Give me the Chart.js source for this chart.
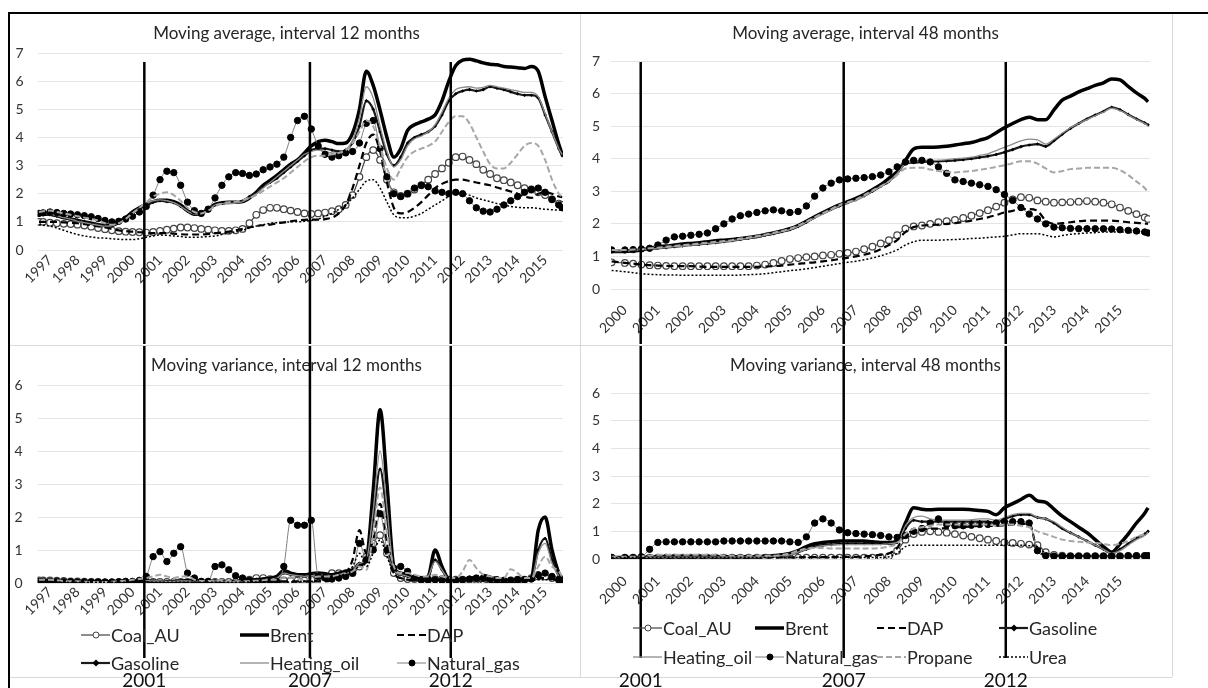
<!DOCTYPE html>
<html lang="en">
<head>
<meta charset="UTF-8" />
<title>Moving average and moving variance</title>
<script src="https://cdn.jsdelivr.net/npm/chart.js"></script>
<style>
  body { margin: 0; background: #fff; width: 1208px; height: 688px; position: relative; overflow: hidden; font-family: Lato, "Liberation Sans", sans-serif; }
  .rule { position: absolute; }
  .pane { position: absolute; }
  .item { position: absolute; height: 22px; display: flex; align-items: center; font-size: 18px; color: #262626; white-space: nowrap; }
  .item svg { margin-right: 1px; }
</style>
</head>
<body>
<div class="rule" style="left:8px;top:12px;width:1200px;height:2px;background:#000"></div>
<div class="rule" style="left:8px;top:12px;width:2px;height:676px;background:#000"></div>
<div class="rule" style="left:580px;top:14px;width:1px;height:663px;background:#d9d9d9"></div>
<div class="rule" style="left:1172px;top:14px;width:1px;height:663px;background:#d9d9d9"></div>
<div class="rule" style="left:10px;top:345px;width:1162px;height:1px;background:#d9d9d9"></div>
<div class="rule" style="left:10px;top:677px;width:1162px;height:1px;background:#d9d9d9"></div>

<canvas class="pane" id="ma12" width="570" height="330" style="left:10px;top:14px"></canvas>
<canvas class="pane" id="ma48" width="590" height="330" style="left:581px;top:14px"></canvas>
<canvas class="pane" id="mv12" width="570" height="342" style="left:10px;top:346px"></canvas>
<canvas class="pane" id="mv48" width="590" height="342" style="left:581px;top:346px"></canvas>
<div id="legends"></div>

<script>
const seriesNames = ["Coal_AU", "Brent", "DAP", "Gasoline", "Heating_oil", "Natural_gas", "Propane", "Urea"];
const eventLabels = ["2001", "2007", "2012"];
const eventYearsLeft = [2000.43, 2006.45, 2011.57];
const eventYearsRight = [2000.48, 2006.63, 2011.54];

// quarterly dates, 12-month panels
const xLeft = [1996.6, 1996.75,
  1997, 1997.25, 1997.5, 1997.75, 1998, 1998.25, 1998.5, 1998.75,
  1999, 1999.25, 1999.5, 1999.75, 2000, 2000.25, 2000.5, 2000.75,
  2001, 2001.25, 2001.5, 2001.75, 2002, 2002.25, 2002.5, 2002.75,
  2003, 2003.25, 2003.5, 2003.75, 2004, 2004.25, 2004.5, 2004.75,
  2005, 2005.25, 2005.5, 2005.75, 2006, 2006.25, 2006.5, 2006.75,
  2007, 2007.25, 2007.5, 2007.75, 2008, 2008.25, 2008.5, 2008.75,
  2009, 2009.25, 2009.5, 2009.75, 2010, 2010.25, 2010.5, 2010.75,
  2011, 2011.25, 2011.5, 2011.75, 2012, 2012.25, 2012.5, 2012.75,
  2013, 2013.25, 2013.5, 2013.75, 2014, 2014.25, 2014.5, 2014.75,
  2015, 2015.25, 2015.5, 2015.62];

// quarterly dates, 48-month panels
const xRight = [1999.6,
  2000, 2000.25, 2000.5, 2000.75, 2001, 2001.25, 2001.5, 2001.75,
  2002, 2002.25, 2002.5, 2002.75, 2003, 2003.25, 2003.5, 2003.75,
  2004, 2004.25, 2004.5, 2004.75, 2005, 2005.25, 2005.5, 2005.75,
  2006, 2006.25, 2006.5, 2006.75, 2007, 2007.25, 2007.5, 2007.75,
  2008, 2008.25, 2008.5, 2008.75, 2009, 2009.25, 2009.5, 2009.75,
  2010, 2010.25, 2010.5, 2010.75, 2011, 2011.25, 2011.5, 2011.75,
  2012, 2012.25, 2012.5, 2012.75, 2013, 2013.25, 2013.5, 2013.75,
  2014, 2014.25, 2014.5, 2014.75, 2015, 2015.25, 2015.5, 2015.75,
  2015.85];

// moving average, 12 months
const coalMA12 = [1.0,1.0, 0.97,0.95,0.93,0.92, 0.9,0.87,0.83,0.78, 0.74,0.7,0.67,0.65, 0.64,0.63,0.62,0.64, 0.68,0.72,0.76,0.8, 0.8,0.78,0.75,0.72, 0.7,0.68,0.68,0.7, 0.75,0.95,1.25,1.42, 1.5,1.5,1.45,1.4, 1.35,1.3,1.28,1.3, 1.33,1.38,1.45,1.6, 1.95,2.6,3.3,3.55, 3.2,2.5,2.05,1.92, 2.0,2.15,2.3,2.5, 2.7,2.9,3.1,3.3, 3.32,3.2,3.05,2.85, 2.7,2.55,2.48,2.4, 2.3,2.2,2.15,2.05, 1.95,1.8,1.65,1.6];
const brentMA12 = [1.3,1.3, 1.28,1.22,1.15,1.1, 1.05,1.0,0.95,0.9, 0.88,0.9,1.0,1.15, 1.35,1.5,1.62,1.72, 1.77,1.77,1.72,1.6, 1.4,1.27,1.3,1.45, 1.62,1.68,1.7,1.7, 1.72,1.85,2.05,2.3, 2.47,2.65,2.85,3.05, 3.2,3.45,3.7,3.85, 3.9,3.85,3.78,3.8, 4.15,5.0,6.35,5.85, 4.97,4.0,3.3,3.6, 4.25,4.45,4.55,4.65, 4.8,5.3,6.0,6.55, 6.75,6.78,6.72,6.65, 6.6,6.58,6.52,6.5, 6.48,6.45,6.52,6.35, 5.45,4.6,3.75,3.4];
const dapMA12 = [1.0,1.0, 1.0,1.0,0.98,0.97, 0.95,0.92,0.88,0.84, 0.8,0.75,0.7,0.67, 0.65,0.63,0.62,0.6, 0.6,0.6,0.58,0.56, 0.55,0.55,0.55,0.57, 0.6,0.62,0.65,0.7, 0.75,0.8,0.85,0.88, 0.9,0.95,0.98,1.02, 1.05,1.07,1.08,1.08, 1.1,1.15,1.3,1.6, 2.2,3.0,3.8,4.1, 3.5,2.4,1.5,1.3, 1.35,1.5,1.7,1.95, 2.2,2.35,2.45,2.5, 2.5,2.45,2.4,2.35, 2.3,2.22,2.15,2.08, 2.0,1.9,1.85,2.0, 2.05,2.0,1.9,1.88];
const gasolineMA12 = [1.25,1.25, 1.25,1.2,1.15,1.1, 1.05,1.0,0.95,0.9, 0.85,0.85,0.95,1.1, 1.3,1.45,1.6,1.7, 1.75,1.72,1.68,1.55, 1.38,1.3,1.32,1.45, 1.6,1.65,1.68,1.7, 1.75,1.9,2.05,2.25, 2.4,2.55,2.75,2.95, 3.15,3.35,3.55,3.6, 3.6,3.55,3.5,3.55, 3.8,4.4,5.3,5.0, 4.2,3.4,3.0,3.3, 3.8,4.0,4.1,4.2, 4.4,4.8,5.3,5.55, 5.65,5.7,5.65,5.7, 5.8,5.75,5.7,5.62, 5.55,5.5,5.5,5.4, 4.8,4.2,3.6,3.35];
const heatingMA12 = [1.3,1.3, 1.28,1.22,1.15,1.1, 1.02,0.97,0.92,0.88, 0.85,0.87,0.97,1.12, 1.32,1.5,1.65,1.75, 1.78,1.75,1.68,1.55, 1.38,1.28,1.3,1.42, 1.6,1.65,1.65,1.67, 1.72,1.85,2.0,2.2, 2.4,2.6,2.8,3.0, 3.2,3.4,3.5,3.55, 3.5,3.45,3.45,3.55, 3.9,4.7,5.8,5.4, 4.4,3.5,2.95,3.2, 3.7,3.95,4.05,4.2, 4.45,4.9,5.4,5.7, 5.78,5.8,5.75,5.78, 5.85,5.8,5.75,5.7, 5.65,5.6,5.6,5.45, 4.85,4.2,3.6,3.4];
const gasMA12 = [1.3,1.32, 1.35,1.33,1.3,1.28, 1.25,1.22,1.18,1.12, 1.05,1.0,1.02,1.1, 1.2,1.35,1.55,1.95, 2.5,2.8,2.75,2.3, 1.7,1.4,1.3,1.45, 1.85,2.3,2.6,2.75, 2.72,2.65,2.7,2.85, 2.95,3.05,3.3,4.0, 4.6,4.75,4.3,3.7, 3.4,3.3,3.35,3.45, 3.5,3.8,4.5,4.6, 3.6,2.6,2.0,1.9, 2.0,2.2,2.3,2.25, 2.1,2.05,2.0,2.05, 2.0,1.75,1.5,1.38, 1.35,1.45,1.6,1.75, 1.9,2.05,2.15,2.2, 2.05,1.8,1.6,1.5];
const propaneMA12 = [1.35,1.38, 1.4,1.35,1.3,1.25, 1.2,1.15,1.1,1.05, 0.95,0.9,0.95,1.1, 1.3,1.5,1.7,1.9, 2.0,2.05,1.95,1.75, 1.5,1.35,1.3,1.4, 1.55,1.65,1.7,1.72, 1.78,1.85,1.95,2.1, 2.25,2.4,2.55,2.75, 2.95,3.15,3.3,3.35, 3.35,3.4,3.45,3.55, 3.8,4.2,4.6,4.4, 3.7,2.9,2.5,2.9, 3.3,3.5,3.6,3.7, 3.85,4.2,4.55,4.75, 4.75,4.5,4.0,3.5, 3.05,2.9,2.9,3.1, 3.4,3.7,3.8,3.7, 3.2,2.5,2.0,1.9];
const ureaMA12 = [0.9,0.88, 0.85,0.78,0.7,0.62, 0.55,0.5,0.46,0.43, 0.42,0.4,0.38,0.37, 0.37,0.4,0.45,0.5, 0.53,0.52,0.5,0.48, 0.45,0.45,0.46,0.48, 0.5,0.55,0.6,0.65, 0.7,0.78,0.85,0.9, 0.95,0.97,0.98,1.0, 1.0,1.02,1.05,1.1, 1.2,1.3,1.45,1.6, 1.85,2.15,2.45,2.5, 2.2,1.7,1.25,1.15, 1.15,1.2,1.3,1.45, 1.6,1.75,1.9,2.0, 2.0,1.95,1.85,1.78, 1.72,1.65,1.6,1.55, 1.52,1.5,1.5,1.48, 1.45,1.43,1.42,1.42];

// moving variance, 12 months
const coalMV12 = [0.08,0.08, 0.08,0.07,0.06,0.05, 0.05,0.04,0.03,0.03, 0.02,0.02,0.02,0.02, 0.02,0.02,0.02,0.03, 0.03,0.03,0.03,0.03, 0.03,0.03,0.03,0.03, 0.03,0.03,0.03,0.03, 0.05,0.1,0.15,0.15, 0.12,0.1,0.08,0.08, 0.08,0.08,0.1,0.15, 0.2,0.3,0.3,0.3, 0.3,0.5,0.8,1.2, 1.45,0.9,0.3,0.15, 0.12,0.12,0.1,0.1, 0.12,0.12,0.1,0.1, 0.1,0.1,0.1,0.08, 0.06,0.05,0.05,0.08, 0.1,0.1,0.15,0.2, 0.2,0.15,0.1,0.08];
const brentMV12 = [0.05,0.05, 0.05,0.04,0.03,0.03, 0.03,0.02,0.02,0.02, 0.03,0.04,0.05,0.06, 0.06,0.07,0.06,0.05, 0.04,0.03,0.04,0.06, 0.07,0.05,0.04,0.05, 0.06,0.04,0.03,0.03, 0.05,0.08,0.1,0.12, 0.15,0.2,0.38,0.3, 0.25,0.25,0.28,0.3, 0.28,0.25,0.3,0.35, 0.4,0.55,0.7,2.8, 5.25,3.0,0.5,0.3, 0.25,0.15,0.12,0.2, 1.0,0.5,0.12,0.1, 0.1,0.12,0.1,0.08, 0.06,0.05,0.05,0.05, 0.05,0.08,0.15,1.6, 2.0,1.0,0.3,0.15];
const dapMV12 = [0.03,0.03, 0.03,0.03,0.03,0.03, 0.03,0.03,0.03,0.03, 0.03,0.03,0.03,0.03, 0.03,0.03,0.03,0.03, 0.03,0.03,0.03,0.03, 0.03,0.03,0.03,0.03, 0.03,0.03,0.03,0.04, 0.04,0.05,0.05,0.05, 0.05,0.05,0.05,0.05, 0.05,0.05,0.05,0.05, 0.05,0.08,0.15,0.3, 0.7,1.6,0.9,1.3, 2.4,1.2,0.3,0.15, 0.1,0.08,0.08,0.08, 0.1,0.1,0.1,0.1, 0.1,0.15,0.2,0.25, 0.2,0.15,0.1,0.08, 0.08,0.1,0.12,0.15, 0.15,0.12,0.1,0.1];
const gasolineMV12 = [0.05,0.05, 0.05,0.05,0.04,0.03, 0.03,0.03,0.02,0.02, 0.03,0.04,0.05,0.06, 0.07,0.08,0.07,0.06, 0.05,0.05,0.05,0.06, 0.06,0.05,0.05,0.05, 0.06,0.05,0.04,0.04, 0.05,0.07,0.08,0.1, 0.12,0.15,0.3,0.25, 0.22,0.22,0.25,0.28, 0.25,0.22,0.25,0.3, 0.35,0.6,0.65,1.9, 3.45,2.0,0.4,0.25, 0.2,0.12,0.1,0.2, 0.7,0.4,0.12,0.1, 0.1,0.1,0.08,0.07, 0.06,0.05,0.05,0.05, 0.05,0.08,0.1,1.0, 1.35,0.7,0.2,0.1];
const heatingMV12 = [0.06,0.06, 0.06,0.05,0.04,0.03, 0.03,0.03,0.02,0.02, 0.03,0.04,0.05,0.06, 0.08,0.1,0.08,0.06, 0.06,0.05,0.05,0.06, 0.06,0.05,0.05,0.05, 0.06,0.05,0.04,0.04, 0.05,0.07,0.08,0.1, 0.12,0.15,0.3,0.25, 0.22,0.2,0.22,0.25, 0.22,0.2,0.25,0.3, 0.35,0.6,0.7,2.2, 4.0,2.3,0.4,0.25, 0.2,0.12,0.1,0.2, 0.65,0.4,0.12,0.1, 0.1,0.1,0.08,0.07, 0.06,0.05,0.05,0.05, 0.05,0.07,0.1,0.9, 1.2,0.6,0.2,0.1];
const gasMV12 = [0.05,0.05, 0.05,0.05,0.04,0.04, 0.03,0.03,0.03,0.03, 0.03,0.03,0.04,0.05, 0.05,0.08,0.2,0.8, 0.95,0.65,0.9,1.1, 0.3,0.15,0.05,0.05, 0.5,0.55,0.4,0.22, 0.15,0.08,0.05,0.05, 0.05,0.05,0.5,1.9, 1.75,1.75,1.9,0.2, 0.15,0.12,0.15,0.2, 0.3,1.2,0.7,1.0, 2.1,1.0,0.45,0.5, 0.35,0.15,0.1,0.1, 0.1,0.08,0.08,0.08, 0.1,0.12,0.15,0.15, 0.12,0.1,0.08,0.08, 0.1,0.1,0.12,0.25, 0.3,0.2,0.1,0.05];
const propaneMV12 = [0.1,0.1, 0.1,0.08,0.06,0.05, 0.05,0.04,0.03,0.03, 0.03,0.04,0.05,0.07, 0.1,0.12,0.15,0.2, 0.25,0.2,0.15,0.2, 0.2,0.1,0.06,0.06, 0.08,0.08,0.06,0.05, 0.05,0.06,0.07,0.08, 0.1,0.1,0.15,0.15, 0.12,0.1,0.15,0.2, 0.2,0.2,0.25,0.3, 0.35,0.5,0.4,1.5, 2.9,1.5,0.5,0.3, 0.3,0.25,0.2,0.2, 0.25,0.2,0.15,0.15, 0.35,0.7,0.45,0.25, 0.2,0.15,0.15,0.42, 0.3,0.15,0.15,0.5, 0.8,0.5,0.35,0.2];
const ureaMV12 = [0.02,0.02, 0.02,0.02,0.02,0.02, 0.02,0.02,0.02,0.02, 0.02,0.02,0.02,0.02, 0.02,0.02,0.02,0.02, 0.02,0.02,0.02,0.02, 0.02,0.02,0.02,0.02, 0.02,0.02,0.02,0.02, 0.03,0.03,0.03,0.03, 0.03,0.03,0.03,0.03, 0.03,0.05,0.05,0.08, 0.1,0.15,0.2,0.3, 0.5,0.9,0.5,0.9, 1.3,0.8,0.3,0.15, 0.1,0.08,0.08,0.08, 0.08,0.08,0.08,0.08, 0.08,0.08,0.08,0.08, 0.08,0.08,0.08,0.08, 0.08,0.08,0.08,0.1, 0.1,0.1,0.08,0.08];

// moving average, 48 months
const coalMA48 = [0.82, 0.8,0.78,0.75,0.73, 0.72,0.71,0.7,0.7, 0.7,0.7,0.7,0.7, 0.7,0.7,0.7,0.7, 0.72,0.75,0.8,0.86, 0.92,0.95,0.98,1.0, 1.03,1.05,1.08,1.11, 1.15,1.22,1.3,1.4, 1.5,1.65,1.85,1.92, 1.95,2.0,2.05,2.08, 2.12,2.18,2.25,2.33, 2.42,2.53,2.65,2.75, 2.82,2.8,2.72,2.68, 2.65,2.66,2.67,2.68, 2.7,2.68,2.65,2.6, 2.5,2.4,2.3,2.2, 2.15];
const brentMA48 = [1.15, 1.15,1.17,1.2,1.25, 1.3,1.32,1.35,1.38, 1.4,1.42,1.45,1.48, 1.5,1.52,1.55,1.58, 1.62,1.67,1.72,1.78, 1.85,1.95,2.08,2.22, 2.35,2.47,2.58,2.68, 2.78,2.9,3.05,3.2, 3.4,3.6,3.95,4.3, 4.35,4.35,4.36,4.38, 4.42,4.46,4.5,4.57, 4.65,4.8,4.95,5.08, 5.2,5.27,5.2,5.2, 5.5,5.8,5.92,6.05, 6.15,6.25,6.33,6.45, 6.42,6.22,6.02,5.85, 5.75];
const dapMA48 = [0.85, 0.8,0.78,0.75,0.73, 0.72,0.71,0.7,0.7, 0.7,0.69,0.68,0.68, 0.68,0.68,0.68,0.68, 0.68,0.69,0.7,0.72, 0.75,0.77,0.8,0.82, 0.85,0.88,0.92,0.96, 1.0,1.05,1.12,1.22, 1.35,1.5,1.75,1.9, 1.95,1.96,1.98,2.0, 2.02,2.06,2.1,2.15, 2.2,2.27,2.35,2.4, 2.45,2.45,2.4,2.1, 2.0,2.02,2.05,2.08, 2.1,2.1,2.1,2.1, 2.08,2.05,2.03,2.01, 2.0];
const gasolineMA48 = [1.15, 1.15,1.17,1.2,1.22, 1.25,1.27,1.3,1.32, 1.35,1.37,1.4,1.42, 1.45,1.48,1.52,1.56, 1.6,1.65,1.7,1.76, 1.82,1.92,2.05,2.2, 2.33,2.44,2.55,2.65, 2.74,2.86,3.0,3.15, 3.3,3.55,3.85,3.88, 3.9,3.91,3.92,3.93, 3.95,3.97,4.0,4.04, 4.08,4.13,4.2,4.28, 4.37,4.42,4.45,4.38, 4.55,4.75,4.93,5.08, 5.22,5.34,5.45,5.58, 5.5,5.36,5.22,5.1, 5.04];
const heatingMA48 = [1.17, 1.17,1.18,1.2,1.22, 1.25,1.27,1.3,1.32, 1.35,1.37,1.4,1.42, 1.45,1.48,1.52,1.56, 1.6,1.65,1.7,1.76, 1.82,1.92,2.05,2.18, 2.3,2.42,2.55,2.64, 2.72,2.85,3.0,3.15, 3.3,3.55,3.85,3.92, 3.95,3.95,3.95,3.97, 4.0,4.02,4.05,4.1, 4.15,4.25,4.35,4.45, 4.55,4.6,4.58,4.45, 4.6,4.78,4.95,5.08, 5.2,5.32,5.43,5.55, 5.48,5.35,5.2,5.08, 5.02];
const gasMA48 = [1.2, 1.2,1.21,1.23,1.25, 1.35,1.5,1.6,1.62, 1.65,1.68,1.72,1.85, 2.0,2.15,2.25,2.3, 2.35,2.4,2.43,2.4, 2.35,2.38,2.55,2.85, 3.1,3.25,3.35,3.38, 3.4,3.42,3.45,3.5, 3.6,3.75,3.9,3.95, 3.95,3.9,3.75,3.55, 3.35,3.3,3.25,3.2, 3.15,3.05,2.9,2.72, 2.5,2.3,2.15,2.0, 1.9,1.88,1.86,1.85, 1.85,1.85,1.85,1.84, 1.82,1.8,1.78,1.75, 1.72];
const propaneMA48 = [1.2, 1.2,1.21,1.22,1.25, 1.27,1.3,1.32,1.35, 1.37,1.4,1.42,1.45, 1.47,1.5,1.55,1.58, 1.62,1.67,1.72,1.78, 1.85,1.95,2.07,2.2, 2.33,2.45,2.58,2.66, 2.75,2.88,3.02,3.15, 3.3,3.5,3.7,3.72, 3.72,3.67,3.62,3.6, 3.58,3.6,3.62,3.66, 3.7,3.75,3.8,3.86, 3.92,3.92,3.85,3.7, 3.58,3.62,3.68,3.7, 3.72,3.72,3.72,3.72, 3.65,3.5,3.3,3.1, 2.98];
const ureaMA48 = [0.57, 0.53,0.5,0.47,0.45, 0.44,0.43,0.43,0.42, 0.42,0.42,0.42,0.42, 0.42,0.42,0.43,0.44, 0.45,0.47,0.5,0.53, 0.56,0.59,0.62,0.66, 0.7,0.74,0.78,0.82, 0.85,0.9,0.95,1.02, 1.1,1.2,1.35,1.45, 1.5,1.5,1.5,1.51, 1.52,1.53,1.55,1.56, 1.58,1.6,1.62,1.66, 1.7,1.7,1.7,1.65, 1.6,1.64,1.68,1.7, 1.72,1.73,1.75,1.75, 1.75,1.74,1.72,1.71, 1.7];

// moving variance, 48 months
const coalMV48 = [0.05, 0.05,0.05,0.05,0.05, 0.05,0.05,0.05,0.05, 0.05,0.05,0.05,0.05, 0.05,0.05,0.05,0.05, 0.05,0.05,0.05,0.05, 0.05,0.05,0.05,0.05, 0.05,0.05,0.05,0.05, 0.05,0.05,0.05,0.07, 0.1,0.3,0.7,0.9, 0.98,1.0,0.98,0.95, 0.9,0.85,0.8,0.75, 0.7,0.65,0.6,0.58, 0.55,0.52,0.5,0.25, 0.15,0.12,0.1,0.1, 0.1,0.1,0.1,0.1, 0.1,0.1,0.1,0.1, 0.1];
const brentMV48 = [0.05, 0.05,0.05,0.06,0.07, 0.08,0.08,0.08,0.08, 0.08,0.08,0.08,0.08, 0.08,0.08,0.08,0.08, 0.08,0.1,0.12,0.15, 0.2,0.3,0.45,0.55, 0.6,0.62,0.65,0.65, 0.65,0.65,0.62,0.6, 0.6,0.65,1.3,1.85, 1.8,1.78,1.8,1.8, 1.8,1.8,1.78,1.75, 1.72,1.6,1.85,2.0, 2.15,2.3,2.1,2.05, 1.8,1.55,1.35,1.15, 0.95,0.7,0.45,0.25, 0.55,0.9,1.3,1.65, 1.85];
const dapMV48 = [0.05, 0.05,0.05,0.05,0.05, 0.05,0.05,0.05,0.05, 0.05,0.05,0.05,0.05, 0.05,0.05,0.05,0.05, 0.05,0.05,0.06,0.06, 0.06,0.06,0.07,0.07, 0.07,0.07,0.08,0.08, 0.08,0.1,0.12,0.15, 0.2,0.4,0.9,1.0, 1.05,1.1,1.1,1.12, 1.15,1.15,1.18,1.2, 1.2,1.2,1.22,1.25, 1.25,1.3,0.3,0.15, 0.12,0.1,0.1,0.1, 0.1,0.1,0.1,0.1, 0.1,0.1,0.1,0.1, 0.1];
const gasolineMV48 = [0.05, 0.05,0.05,0.06,0.06, 0.07,0.07,0.07,0.07, 0.07,0.07,0.07,0.07, 0.07,0.07,0.07,0.07, 0.07,0.08,0.1,0.12, 0.15,0.25,0.35,0.45, 0.5,0.52,0.55,0.55, 0.55,0.55,0.55,0.55, 0.55,0.6,1.1,1.4, 1.35,1.35,1.35,1.35, 1.35,1.35,1.35,1.35, 1.35,1.3,1.45,1.55, 1.6,1.6,1.5,1.45, 1.3,1.1,0.95,0.8, 0.65,0.5,0.35,0.2, 0.35,0.55,0.75,0.9, 1.0];
const heatingMV48 = [0.05, 0.05,0.05,0.06,0.06, 0.07,0.07,0.07,0.07, 0.07,0.07,0.07,0.07, 0.07,0.07,0.07,0.07, 0.07,0.08,0.1,0.12, 0.15,0.25,0.35,0.42, 0.48,0.5,0.52,0.52, 0.52,0.52,0.52,0.52, 0.55,0.6,1.2,1.5, 1.55,1.45,1.4,1.4, 1.4,1.4,1.42,1.45, 1.45,1.4,1.5,1.6, 1.65,1.65,1.5,1.45, 1.35,1.15,0.95,0.8, 0.65,0.5,0.35,0.2, 0.3,0.5,0.7,0.85, 0.95];
const gasMV48 = [0.05, 0.05,0.05,0.08,0.35, 0.6,0.62,0.62,0.62, 0.62,0.62,0.62,0.62, 0.65,0.65,0.65,0.65, 0.65,0.65,0.65,0.65, 0.62,0.6,0.8,1.3, 1.45,1.3,1.05,0.95, 0.92,0.9,0.88,0.85, 0.8,0.78,0.85,1.0, 1.1,1.3,1.45,1.25, 1.2,1.2,1.22,1.25, 1.25,1.3,1.35,1.35, 1.35,1.3,0.3,0.12, 0.1,0.1,0.1,0.1, 0.1,0.1,0.1,0.1, 0.1,0.12,0.12,0.12, 0.12];
const propaneMV48 = [0.08, 0.08,0.08,0.1,0.12, 0.15,0.15,0.15,0.15, 0.15,0.15,0.15,0.15, 0.13,0.12,0.12,0.12, 0.12,0.12,0.12,0.15, 0.2,0.3,0.38,0.4, 0.4,0.38,0.38,0.38, 0.38,0.38,0.38,0.4, 0.45,0.55,0.9,1.1, 1.15,1.2,1.25,1.25, 1.25,1.25,1.25,1.25, 1.25,1.2,1.25,1.25, 1.2,1.15,1.0,0.9, 0.8,0.7,0.65,0.62, 0.6,0.58,0.55,0.5, 0.55,0.65,0.8,0.9, 0.95];
const ureaMV48 = [0.05, 0.05,0.05,0.05,0.05, 0.05,0.05,0.05,0.05, 0.05,0.05,0.05,0.05, 0.05,0.05,0.05,0.05, 0.05,0.05,0.05,0.05, 0.05,0.05,0.05,0.05, 0.05,0.05,0.05,0.05, 0.05,0.05,0.05,0.05, 0.08,0.2,0.45,0.5, 0.5,0.5,0.5,0.5, 0.5,0.5,0.5,0.5, 0.5,0.5,0.5,0.5, 0.5,0.48,0.45,0.2, 0.15,0.12,0.12,0.12, 0.12,0.12,0.12,0.12, 0.12,0.12,0.12,0.12, 0.12];

const FONT = "Lato, 'Liberation Sans', sans-serif";

const seriesStyle = {
  Coal_AU:     { borderColor: "#444", borderWidth: 1.2, pointStyle: "circle", pointRadius: 3.3, pointBackgroundColor: "#fff", pointBorderColor: "#444", pointBorderWidth: 1.2 },
  Brent:       { borderColor: "#000", borderWidth: 3.5, pointRadius: 0 },
  DAP:         { borderColor: "#000", borderWidth: 2.2, borderDash: [7, 4], pointRadius: 0 },
  Gasoline:    { borderColor: "#1a1a1a", borderWidth: 2.2, pointStyle: "rectRot", pointRadius: 1.8, pointBackgroundColor: "#000", pointBorderColor: "#000", pointBorderWidth: 0 },
  Heating_oil: { borderColor: "#8c8c8c", borderWidth: 1.3, pointRadius: 0 },
  Natural_gas: { borderColor: "#7f7f7f", borderWidth: 1, pointStyle: "circle", pointRadius: 3.2, pointBackgroundColor: "#000", pointBorderColor: "#000", pointBorderWidth: 1 },
  Propane:     { borderColor: "#a6a6a6", borderWidth: 2, borderDash: [6, 3], pointRadius: 0 },
  Urea:        { borderColor: "#000", borderWidth: 1.5, borderDash: [2, 2], pointRadius: 0 }
};

const eventLines = {
  id: "eventLines",
  afterDraw(chart, args, opts) {
    const { ctx } = chart;
    const x = chart.scales.x;
    ctx.save();
    opts.years.forEach((yr, i) => {
      const px = x.getPixelForValue(yr);
      ctx.strokeStyle = "#000";
      ctx.lineWidth = 2.5;
      ctx.beginPath();
      ctx.moveTo(px, opts.from);
      ctx.lineTo(px, opts.to == null ? chart.height : opts.to);
      ctx.stroke();
      if (opts.labelY) {
        ctx.fillStyle = "#111";
        ctx.font = "19px " + FONT;
        ctx.textAlign = "center";
        ctx.textBaseline = "alphabetic";
        ctx.fillText(eventLabels[i], px, opts.labelY);
      }
    });
    ctx.restore();
  }
};

function buildDatasets(xs, cols) {
  return seriesNames.map((name, i) => ({
    label: name,
    data: xs.map((x, k) => ({ x: x, y: cols[i][k] })),
    cubicInterpolationMode: "monotone",
    fill: false,
    order: seriesNames.length - 1 - i,
    ...seriesStyle[name]
  }));
}

function makeChart(id, p) {
  return new Chart(document.getElementById(id), {
    type: "line",
    data: { datasets: buildDatasets(p.xs, p.cols) },
    plugins: [eventLines],
    options: {
      responsive: false,
      animation: false,
      events: [],
      layout: { padding: { left: 0, right: p.padRight, top: 0, bottom: 0 } },
      plugins: {
        legend: { display: false },
        tooltip: { enabled: false },
        title: {
          display: true, text: p.title, color: "#262626",
          font: { family: FONT, size: 17, weight: "normal", lineHeight: 1.2 },
          padding: { top: 9, bottom: p.titleGap }
        },
        eventLines: { years: p.events, from: p.lineFrom, to: p.lineTo, labelY: p.labelY }
      },
      scales: {
        x: {
          type: "linear", min: p.xMin, max: p.xMax,
          grid: { display: false }, border: { display: false },
          ticks: {
            stepSize: 1, includeBounds: false, autoSkip: false,
            minRotation: 45, maxRotation: 45, padding: p.xPad,
            color: "#333", font: { family: FONT, size: 14 },
            callback: v => String(v)
          },
          afterFit: s => { s.height = p.xHeight; }
        },
        y: {
          min: 0, max: p.yMax,
          grid: { color: "#e4e4e4", drawTicks: false }, border: { display: false },
          ticks: { stepSize: 1, padding: p.yPad, color: "#333", font: { family: FONT, size: 14 } },
          afterFit: s => { s.width = p.yWidth; }
        }
      }
    }
  });
}

makeChart("ma12", {
  title: "Moving average, interval 12 months", xs: xLeft,
  cols: [coalMA12, brentMA12, dapMA12, gasolineMA12, heatingMA12, gasMA12, propaneMA12, ureaMA12],
  xMin: 1996.55, xMax: 2015.65, yMax: 7, padRight: 17, yWidth: 27.6, xHeight: 94, titleGap: 9.6,
  xPad: -6, yPad: 14, events: eventYearsLeft, lineFrom: 48, lineTo: null
});
makeChart("ma48", {
  title: "Moving average, interval 48 months", xs: xRight,
  cols: [coalMA48, brentMA48, dapMA48, gasolineMA48, heatingMA48, gasMA48, propaneMA48, ureaMA48],
  xMin: 1999.58, xMax: 2015.91, yMax: 7, padRight: 21, yWidth: 30, xHeight: 55, titleGap: 17.6,
  xPad: 5, yPad: 11, events: eventYearsRight, lineFrom: 48, lineTo: null
});
makeChart("mv12", {
  title: "Moving variance, interval 12 months", xs: xLeft,
  cols: [coalMV12, brentMV12, dapMV12, gasolineMV12, heatingMV12, gasMV12, propaneMV12, ureaMV12],
  xMin: 1996.55, xMax: 2015.65, yMax: 6, padRight: 17, yWidth: 27.6, xHeight: 105, titleGap: 9.6,
  xPad: -7, yPad: 15, events: eventYearsLeft, lineFrom: 0, lineTo: 312, labelY: 341
});
makeChart("mv48", {
  title: "Moving variance, interval 48 months", xs: xRight,
  cols: [coalMV48, brentMV48, dapMV48, gasolineMV48, heatingMV48, gasMV48, propaneMV48, ureaMV48],
  xMin: 1999.58, xMax: 2015.91, yMax: 6, padRight: 21, yWidth: 30, xHeight: 129, titleGap: 17.6,
  xPad: 6, yPad: 11, events: eventYearsRight, lineFrom: 0, lineTo: 312, labelY: 341
});

// Excel-like legends with fixed columns
function sampleSvg(name) {
  const s = seriesStyle[name];
  const dash = s.borderDash ? ` stroke-dasharray="${s.borderDash.join(",")}"` : "";
  let mark = "";
  if (s.pointStyle === "circle") {
    mark = `<circle cx="15" cy="7" r="3" fill="${s.pointBackgroundColor}" stroke="${s.pointBorderColor}" stroke-width="1"/>`;
  } else if (s.pointStyle === "rectRot") {
    mark = `<rect x="12.5" y="4.5" width="5" height="5" fill="#000" transform="rotate(45 15 7)"/>`;
  }
  return `<svg width="29" height="14"><line x1="0" y1="7" x2="29" y2="7" stroke="${s.borderColor}" stroke-width="${s.borderWidth}"${dash}/>${mark}</svg>`;
}

function placeLegend(names, colX, rowY) {
  const host = document.getElementById("legends");
  names.forEach((name, i) => {
    const el = document.createElement("div");
    el.className = "item";
    el.style.left = colX[i % colX.length] + "px";
    el.style.top = (rowY[Math.floor(i / colX.length)] - 11) + "px";
    el.innerHTML = sampleSvg(name) + "<span>" + name + "</span>";
    host.appendChild(el);
  });
}

placeLegend(seriesNames.slice(0, 6), [81, 240, 397], [635, 663]);
placeLegend(seriesNames, [633, 755, 877, 999], [628, 657]);
</script>
</body>
</html>
